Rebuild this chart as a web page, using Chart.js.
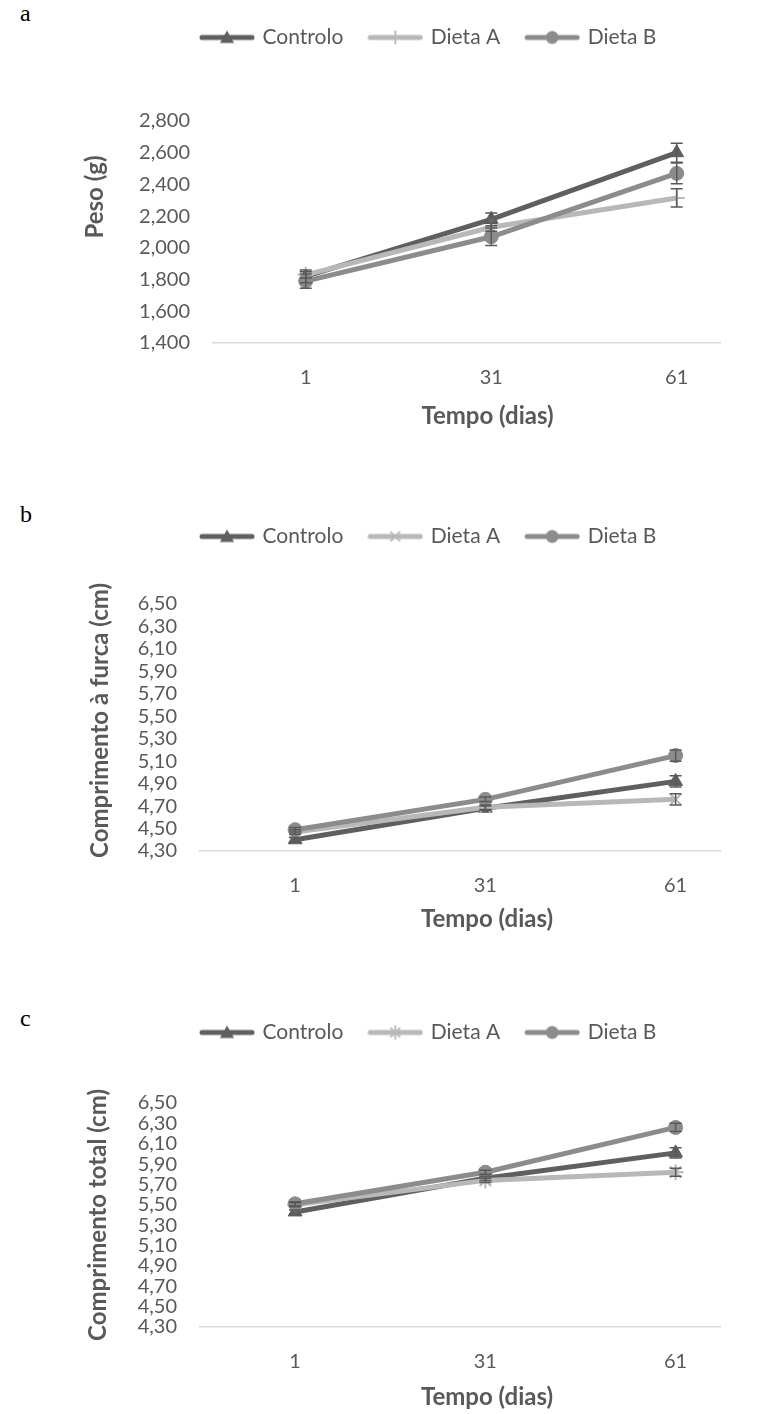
<!DOCTYPE html>
<html>
<head>
<meta charset="utf-8">
<script src="https://cdn.jsdelivr.net/npm/chart.js@4.4.1/dist/chart.umd.min.js"></script>
<style>
  body { margin: 0; background: #fff; }
  #page { position: relative; width: 761px; height: 1414px; overflow: hidden; }
  canvas { position: absolute; left: 0; }
  .tag { position: absolute; left: 20px; font-family: "Liberation Serif", serif; font-size: 24px; line-height: 24px; color: #000; }
</style>
</head>
<body>
<div id="page">
  <div class="tag" style="top:1px">a</div>
  <canvas id="chartA" width="761" height="431" style="top:0px"></canvas>
  <div class="tag" style="top:502px">b</div>
  <canvas id="chartB" width="761" height="473" style="top:460px"></canvas>
  <div class="tag" style="top:1006px">c</div>
  <canvas id="chartC" width="761" height="451" style="top:960px"></canvas>
</div>
<script>
const days = [1, 31, 61];
const dayLabels = ['1', '31', '61'];
const seriesNames = ['Controlo', 'Dieta A', 'Dieta B'];

// a - peso (g)
const pesoControlo = [1820, 2180, 2600];
const pesoDietaA = [1830, 2130, 2315];
const pesoDietaB = [1790, 2070, 2470];
const pesoErrControlo = [40, 40, 60];
const pesoErrDietaA = [20, 25, 57];
const pesoErrDietaB = [45, 55, 65];
const pesoTicks = [1400, 1600, 1800, 2000, 2200, 2400, 2600, 2800];
const pesoTickLabels = ['1,400', '1,600', '1,800', '2,000', '2,200', '2,400', '2,600', '2,800'];

// b - comprimento a furca (cm)
const furcaControlo = [4.40, 4.68, 4.92];
const furcaDietaA = [4.47, 4.69, 4.76];
const furcaDietaB = [4.49, 4.76, 5.15];
const furcaErrControlo = [0.02, 0.02, 0.05];
const furcaErrDietaA = [0.02, 0.02, 0.05];
const furcaErrDietaB = [0.02, 0.02, 0.05];

// c - comprimento total (cm)
const totalControlo = [5.43, 5.76, 6.01];
const totalDietaA = [5.50, 5.74, 5.82];
const totalDietaB = [5.51, 5.82, 6.26];
const totalErrControlo = [0.02, 0.02, 0.05];
const totalErrDietaA = [0.02, 0.02, 0.04];
const totalErrDietaB = [0.02, 0.02, 0.04];

const compTicks = [4.3, 4.5, 4.7, 4.9, 5.1, 5.3, 5.5, 5.7, 5.9, 6.1, 6.3, 6.5];
const compTickLabels = ['4,30', '4,50', '4,70', '4,90', '5,10', '5,30', '5,50', '5,70', '5,90', '6,10', '6,30', '6,50'];

const cores = ['#5f5f5f', '#b8b8b8', '#8c8c8c'];
const textColor = '#595959';
const fontFamily = 'Lato, "Noto Sans", sans-serif';

// desenha a linha + marcador da legenda (estilo Excel)
function legendIcon(color, style) {
    const c = document.createElement('canvas');
    c.width = 56;
    c.height = 18;
    const ctx = c.getContext('2d');
    ctx.strokeStyle = color;
    ctx.fillStyle = color;
    ctx.lineWidth = 5;
    ctx.lineCap = 'round';
    ctx.beginPath();
    ctx.moveTo(3, 9);
    ctx.lineTo(53, 9);
    ctx.stroke();
    const x = 28, y = 9, r = 7;
    ctx.lineCap = 'butt';
    ctx.lineWidth = 1.8;
    ctx.beginPath();
    if (style === 'triangle') {
        ctx.moveTo(x, y - r);
        ctx.lineTo(x + r, y + r * 0.8);
        ctx.lineTo(x - r, y + r * 0.8);
        ctx.closePath();
        ctx.fill();
    } else if (style === 'circle') {
        ctx.arc(x, y, 6.5, 0, Math.PI * 2);
        ctx.fill();
    } else {
        let angles = [];
        if (style === 'cross') angles = [0, 90];
        if (style === 'crossRot') angles = [45, 135];
        if (style === 'star') angles = [0, 45, 90, 135];
        angles.forEach(a => {
            const rad = a * Math.PI / 180;
            ctx.moveTo(x - Math.cos(rad) * r, y - Math.sin(rad) * r);
            ctx.lineTo(x + Math.cos(rad) * r, y + Math.sin(rad) * r);
        });
        ctx.stroke();
    }
    return c;
}

const errorBars = {
    id: 'errorBars',
    afterDatasetsDraw(chart) {
        const ctx = chart.ctx;
        const yScale = chart.scales.y;
        ctx.save();
        ctx.strokeStyle = '#595959';
        ctx.lineWidth = 1.5;
        chart.data.datasets.forEach((ds, i) => {
            const meta = chart.getDatasetMeta(i);
            ds.errors.forEach((e, j) => {
                const px = meta.data[j].x;
                const v = ds.data[j].y;
                const top = yScale.getPixelForValue(v + e);
                const bot = yScale.getPixelForValue(v - e);
                ctx.beginPath();
                ctx.moveTo(px, top); ctx.lineTo(px, bot);
                ctx.moveTo(px - 6, top); ctx.lineTo(px + 6, top);
                ctx.moveTo(px - 6, bot); ctx.lineTo(px + 6, bot);
                ctx.stroke();
            });
        });
        ctx.restore();
    }
};

const layoutFix = {
    id: 'layoutFix',
    afterInit(chart, args, opts) {
        const lg = chart.legend;
        const fit = lg.fit;
        lg.fit = function () {
            fit.call(this);
            this.height = opts.legendHeight;
        };
    },
    afterLayout(chart, args, opts) {
        chart.legend.left = opts.legendX - chart.options.plugins.legend.labels.padding;
        chart.legend.top = opts.legendY;
    }
};

// desloca o titulo do eixo (o Excel nao o centra no eixo)
function shiftTitle(scale, shift) {
    if (scale._titleShifted) return;
    const drawTitle = scale.drawTitle;
    scale.drawTitle = function () {
        this.ctx.save();
        this.ctx.translate(shift[0], shift[1]);
        drawTitle.call(this);
        this.ctx.restore();
    };
    scale._titleShifted = true;
}

function makeDataset(i, vals, errs, pointStyle) {
    return {
        label: seriesNames[i],
        data: days.map((d, j) => ({ x: d, y: vals[j] })),
        errors: errs,
        borderColor: cores[i],
        backgroundColor: cores[i],
        borderWidth: 5,
        pointStyle: pointStyle,
        pointRadius: pointStyle === 'circle' ? 7 : 8,
        pointBackgroundColor: cores[i],
        pointBorderColor: cores[i],
        pointBorderWidth: pointStyle === 'circle' || pointStyle === 'triangle' ? 1 : 2,
        tension: 0,
        order: 2 - i
    };
}

function createChart(id, cfg) {
    const icons = cfg.styles.map((s, i) => legendIcon(cores[i], s));
    const font = { family: fontFamily, size: 20 };
    const legendFont = { family: fontFamily, size: 21 };
    const bold = { family: fontFamily, size: 24, weight: 'bold' };
    return new Chart(document.getElementById(id), {
        type: 'line',
        data: {
            datasets: [
                makeDataset(0, cfg.series[0], cfg.errors[0], cfg.styles[0]),
                makeDataset(1, cfg.series[1], cfg.errors[1], cfg.styles[1]),
                makeDataset(2, cfg.series[2], cfg.errors[2], cfg.styles[2])
            ]
        },
        options: {
            responsive: false,
            animation: false,
            layout: { padding: { left: 60, right: 41, top: 0, bottom: 0 } },
            plugins: {
                tooltip: { enabled: false },
                legend: {
                    position: 'top',
                    align: 'start',
                    labels: {
                        usePointStyle: true,
                        pointStyleWidth: 50,
                        padding: 27,
                        color: textColor,
                        font: legendFont,
                        generateLabels: chart => Chart.defaults.plugins.legend.labels.generateLabels(chart).map(item => {
                            item.pointStyle = icons[item.datasetIndex];
                            return item;
                        }),
                        sort: (a, b) => a.datasetIndex - b.datasetIndex
                    }
                },
                layoutFix: cfg.layout
            },
            scales: {
                x: {
                    type: 'linear',
                    min: -14,
                    max: 68,
                    grid: { display: false, drawTicks: false },
                    border: { display: true, color: '#d9d9d9', width: 1.5 },
                    afterBuildTicks: s => { s.ticks = days.map(v => ({ value: v })); },
                    afterFit: s => {
                        s.height = cfg.xHeight;
                        shiftTitle(s, cfg.xTitleShift);
                    },
                    ticks: {
                        autoSkip: false,
                        maxRotation: 0,
                        padding: 23,
                        color: textColor,
                        font: font,
                        callback: (v, i) => dayLabels[i]
                    },
                    title: {
                        display: true,
                        text: 'Tempo (dias)',
                        color: textColor,
                        font: bold,
                        padding: { top: 0, bottom: 2 }
                    }
                },
                y: {
                    min: cfg.ticks[0],
                    max: cfg.ticks[cfg.ticks.length - 1],
                    grid: { display: false, drawTicks: false },
                    border: { display: false },
                    afterBuildTicks: s => { s.ticks = cfg.ticks.map(v => ({ value: v })); },
                    afterFit: s => {
                        s.width = cfg.yWidth;
                        shiftTitle(s, cfg.yTitleShift);
                    },
                    ticks: {
                        autoSkip: false,
                        padding: 23,
                        color: textColor,
                        font: font,
                        callback: (v, i) => cfg.tickLabels[i]
                    },
                    title: {
                        display: true,
                        text: cfg.yTitle,
                        color: textColor,
                        font: bold,
                        padding: { top: cfg.yTitlePad, bottom: 0 }
                    }
                }
            }
        },
        plugins: [errorBars, layoutFix]
    });
}

createChart('chartA', {
    series: [pesoControlo, pesoDietaA, pesoDietaB],
    errors: [pesoErrControlo, pesoErrDietaA, pesoErrDietaB],
    styles: ['triangle', 'cross', 'circle'],
    ticks: pesoTicks,
    tickLabels: pesoTickLabels,
    yTitle: 'Peso (g)',
    yTitlePad: 21,
    yWidth: 153,
    xHeight: 88,
    xTitleShift: [21, 2],
    yTitleShift: [0, -35],
    layout: { legendHeight: 121, legendX: 202, legendY: 0 }
});

createChart('chartB', {
    series: [furcaControlo, furcaDietaA, furcaDietaB],
    errors: [furcaErrControlo, furcaErrDietaA, furcaErrDietaB],
    styles: ['triangle', 'crossRot', 'circle'],
    ticks: compTicks,
    tickLabels: compTickLabels,
    yTitle: 'Comprimento à furca (cm)',
    yTitlePad: 26,
    yWidth: 140,
    xHeight: 82,
    xTitleShift: [27, 3],
    yTitleShift: [0, -7],
    layout: { legendHeight: 144, legendX: 202, legendY: 39 }
});

createChart('chartC', {
    series: [totalControlo, totalDietaA, totalDietaB],
    errors: [totalErrControlo, totalErrDietaA, totalErrDietaB],
    styles: ['triangle', 'star', 'circle'],
    ticks: compTicks,
    tickLabels: compTickLabels,
    yTitle: 'Comprimento total (cm)',
    yTitlePad: 24,
    yWidth: 140,
    xHeight: 84,
    xTitleShift: [27, 3],
    yTitleShift: [0, 0],
    layout: { legendHeight: 143, legendX: 202, legendY: 35 }
});
</script>
</body>
</html>
